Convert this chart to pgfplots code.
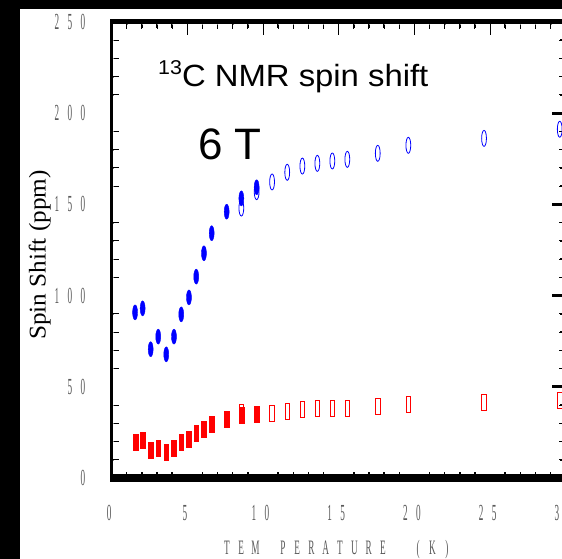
\documentclass[border=0pt]{standalone}
\usepackage{pgfplots}
\pgfplotsset{compat=1.18}
\usepackage{fontspec}
\setmainfont{Liberation Serif}
\newfontfamily\arial{Liberation Sans}
\newcommand{\tkd}[1]{\makebox[13pt]{\scalebox{0.4}[1]{#1}}}
\newcommand{\tkl}{\fontsize{23}{23}\selectfont}
\newcommand{\xt}[1]{\raisebox{0pt}[42.5pt][0pt]{#1\rule{5pt}{0pt}}}
\newcommand{\yt}[1]{#1\rule{22pt}{0pt}}
\newcommand{\xl}[1]{\makebox[14.3pt]{\scalebox{0.45}[1]{#1}}}
\pgfplotsset{
  frame/.style={
    at={(111.6pt,81pt)}, anchor=south west,
    scale only axis, width=454.2pt, height=456pt,
    xmin=0, xmax=30, ymin=0, ymax=250,
    xtick={0,5,...,30}, ytick={0,50,...,250},
    minor x tick num=4, minor y tick num=4,
    tick align=inside,
  },
  xticks/.style={frame,
    axis line style={draw=none},
    ymajorticks=false, yminorticks=false,
    every tick/.append style={black, line width=1pt},
    xticklabels={}, yticklabels={},
  },
  yticks/.style={frame,
    axis line style={draw=none},
    xmajorticks=false, xminorticks=false,
    major tick length=14pt, minor tick length=6pt,
    every major tick/.append style={black, line width=3pt},
    every minor tick/.append style={black, line width=1.5pt},
    xticklabels={}, yticklabels={},
  },
}
\begin{document}
\begin{tikzpicture}
\useasboundingbox (0pt,0pt) rectangle (562pt,559pt);
\clip (0pt,0pt) rectangle (562pt,559pt);
\fill[white] (0pt,0pt) rectangle (562pt,559pt);
% top x ticks
\begin{axis}[xticks, xtick pos=right, major tick length=13pt, minor tick length=6pt]
\end{axis}
% bottom x ticks (drawn as upper ticks of a reversed axis)
\begin{axis}[xticks, y dir=reverse, xtick pos=right, major tick length=13pt, minor tick length=7pt]
\end{axis}
% right y ticks
\begin{axis}[yticks, ytick pos=right]
\end{axis}
% left y ticks (drawn as upper ticks of a reversed axis)
\begin{axis}[yticks, x dir=reverse, ytick pos=right]
\end{axis}
% tick labels only
\begin{axis}[frame,
  axis line style={draw=none},
  xminorticks=false, yminorticks=false,
  major tick length=0pt,
  every tick/.append style={draw=none},
  xticklabels={\xt{\tkd{0}},\xt{\tkd{5}},\xt{\tkd{1}\tkd{0}},\xt{\tkd{1}\tkd{5}},\xt{\tkd{2}\tkd{0}},\xt{\tkd{2}\tkd{5}},\xt{\tkd{3}\tkd{0}}},
  xticklabel style={font=\tkl, text=black!65, inner sep=0pt, anchor=north},
  yticklabels={\yt{\tkd{0}},\yt{\tkd{5}\tkd{0}},\yt{\tkd{1}\tkd{0}\tkd{0}},\yt{\tkd{1}\tkd{5}\tkd{0}},\yt{\tkd{2}\tkd{0}\tkd{0}},\yt{\tkd{2}\tkd{5}\tkd{0}}},
  yticklabel style={font=\tkl, text=black!65, inner sep=0pt, anchor=east},
]
\end{axis}
% main axis: data, axis lines, axis labels
\begin{axis}[frame,
  clip=false,
  xmajorticks=false, xminorticks=false, ymajorticks=false, yminorticks=false,
  axis line style={line width=2.5pt, black},
  xlabel={\xl{T}\xl{E}\xl{M}\hspace{13pt}\xl{P}\xl{E}\xl{R}\xl{A}\xl{T}\xl{U}\xl{R}\xl{E}\hspace{21pt}\xl{(}\xl{K}\xl{)}},
  xlabel style={at={(axis description cs:0.496,-0.158)}, anchor=center, inner sep=0pt, text=black!65, font=\fontsize{20.5}{21}\selectfont},
  ylabel={\scalebox{1.05}[1]{Spin Shift (ppm)}},
  ylabel style={at={(axis description cs:-0.1585,0.489)}, anchor=center, inner sep=0pt, font=\fontsize{24}{24}\selectfont},
]
% blue open
\addplot[only marks, mark=o, mark size=8pt, blue, mark options={xscale=0.3, line width=0.8pt, fill=blue!10}] coordinates {
(8.57,148)(9.58,157)(10.6,162.3)(11.6,167.6)(12.6,171)(13.59,172.5)(14.58,173.8)(15.57,174.7)(17.58,178)(19.6,182.4)(24.6,186.2)(29.6,191.2)};
% blue filled
\addplot[only marks, mark=*, mark size=7.5pt, blue, mark options={xscale=0.33, fill=blue, draw=blue}] coordinates {
(1.55,90.8)(2.05,93.0)(2.58,70.6)(3.08,77.5)(3.61,67.8)(4.12,77.5)(4.60,89.7)(5.11,99.0)(5.59,110.4)(6.10,123.2)(6.61,134.2)(7.60,146.0)(8.57,153.3)(9.58,159.4)};
% red open
\addplot[only marks, mark=square, mark size=8pt, red, mark options={xscale=0.28, line width=0.8pt, fill=red!10}] coordinates {
(8.57,36)(10.6,35.5)(11.6,36.4)(12.6,37.7)(13.6,38.2)(14.58,38.2)(15.57,38.2)(17.58,39.1)(19.6,40.4)(24.6,41.5)(29.6,42.4)};
% red filled
\addplot[only marks, mark=square*, mark size=8pt, red, mark options={xscale=0.3, fill=red, draw=red}] coordinates {
(1.59,19.9)(2.07,20.5)(2.58,15.0)(3.08,16.6)(3.61,14.4)(4.12,16.6)(4.6,19.4)(5.11,21.5)(5.59,24.3)(6.1,27.0)(6.61,29.4)(7.6,32.2)(8.57,34.4)(9.58,35.1)};
\draw[line width=8pt] ([xshift=-1.25pt]rel axis cs:0,0) -- ([xshift=20pt]rel axis cs:1,0);
\draw[line width=5pt] ([xshift=-1.25pt]rel axis cs:0,1) -- ([xshift=20pt]rel axis cs:1,1);
\end{axis}
\fill[black] (0pt,0pt) rectangle (20pt,559pt);
\fill[black] (0pt,550pt) rectangle (562pt,559pt);
\node[anchor=base west, inner sep=0pt, font=\arial\fontsize{30.7}{31}\selectfont] at (158pt,472pt)
  {\scalebox{1.07}[1]{\raisebox{12pt}{\fontsize{20}{20}\selectfont 13}C NMR spin shift}};
\node[anchor=base west, inner sep=0pt, font=\arial\fontsize{44}{44}\selectfont] at (198pt,399pt) {6 T};
\end{tikzpicture}
\end{document}
